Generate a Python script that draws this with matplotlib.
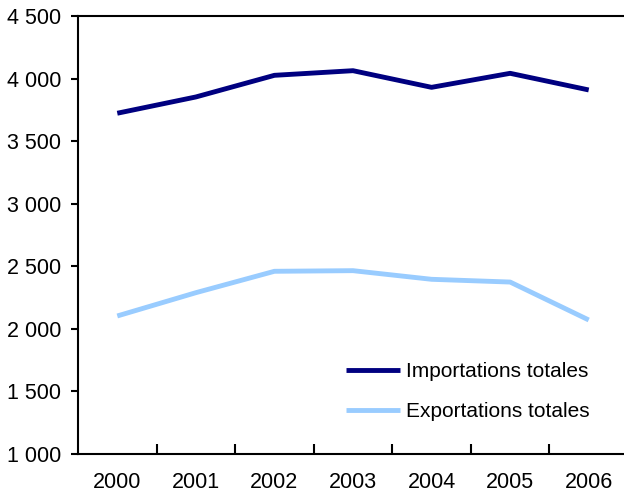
import matplotlib.pyplot as plt
from matplotlib.ticker import FuncFormatter, FixedLocator

plt.rcParams['font.family'] = ['Liberation Sans', 'DejaVu Sans']

# data
years = ['2000', '2001', '2002', '2003', '2004', '2005', '2006']
imports_total = [3723, 3853, 4026, 4063, 3930, 4042, 3909]
exports_total = [2103, 2289, 2460, 2465, 2396, 2374, 2071]
labels = ['Importations totales', 'Exportations totales']

fig = plt.figure(figsize=(6.24, 4.94), dpi=100)
ax = fig.add_axes([78 / 624, 40 / 494, 550 / 624, 438 / 494])

x = range(len(years))
ax.plot(x, imports_total, color='#000080', lw=3.5, label=labels[0], solid_capstyle='butt')
ax.plot(x, exports_total, color='#99CCFF', lw=3.5, label=labels[1], solid_capstyle='butt')

ax.set_xlim(-0.5, len(years) - 0.5)
ax.set_ylim(1000, 4500)
ax.set_yticks(range(1000, 4501, 500))
ax.yaxis.set_major_formatter(FuncFormatter(lambda v, p: f'{int(v):,}'.replace(',', ' ')))

ax.set_xticks(list(x))
ax.set_xticklabels(years)
ax.xaxis.set_minor_locator(FixedLocator([i + 0.5 for i in range(len(years) - 1)]))
ax.tick_params(axis='x', which='major', length=0, pad=13, labelsize=15.5)
ax.tick_params(axis='x', which='minor', direction='in', length=7, width=1.5)
ax.tick_params(axis='y', direction='out', length=5, width=1.5, pad=7, labelsize=15.5)

for s in ['left', 'bottom', 'top']:
    ax.spines[s].set_linewidth(1.5)
ax.spines['right'].set_visible(False)

ax.legend(loc='upper left', bbox_to_anchor=(346 / 624, 1 - 362 / 494),
          bbox_transform=fig.transFigure, frameon=False, fontsize=15,
          handlelength=2.6, handletextpad=0.3, labelspacing=1.0,
          borderpad=0, borderaxespad=0)

fig.savefig('out.png', dpi=100)
